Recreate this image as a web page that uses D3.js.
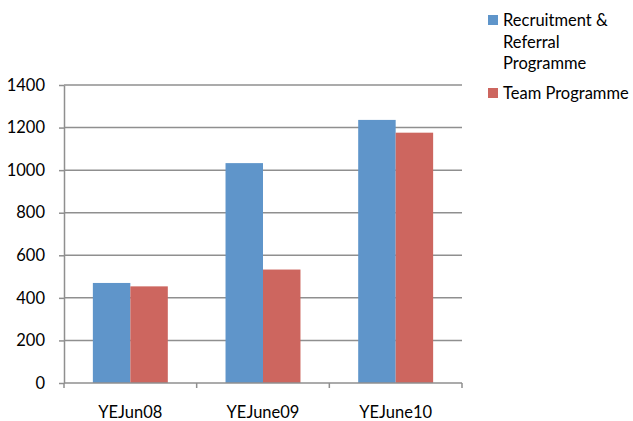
<!DOCTYPE html>
<html>
<head>
<meta charset="utf-8">
<script src="https://cdn.jsdelivr.net/npm/d3@7"></script>
<style>
  html, body { margin: 0; padding: 0; background: #fff; }
  svg { display: block; font-family: Lato, "Open Sans", sans-serif; }
</style>
</head>
<body>
<svg id="chart" width="633" height="421"></svg>
<script>
// Year-end programme totals
const categories = ["YEJun08", "YEJune09", "YEJune10"];
const seriesNames = [["Recruitment &", "Referral", "Programme"], ["Team Programme"]];
const recruitmentReferral = [470, 1033, 1236];
const teamProgramme = [454, 533, 1176];
const yTicks = [0, 200, 400, 600, 800, 1000, 1200, 1400];
const colors = ["#5f95ca", "#cd665f"];

const series = [recruitmentReferral, teamProgramme];

const svg = d3.select("#chart");
const plot = { left: 64, right: 462, top: 85, bottom: 383 };
const fontSize = 16.5;
const fontFamily = "Lato, \"Open Sans\", sans-serif";

const x = d3.scaleBand().domain(categories).range([plot.left, plot.right]).paddingInner(0).paddingOuter(0);
const inner = d3.scaleBand().domain(d3.range(series.length)).range([0, x.bandwidth()]).paddingInner(0).paddingOuter(0.77);
const y = d3.scaleLinear().domain([0, 1400]).range([plot.bottom, plot.top]);

// Horizontal gridlines
svg.append("g")
  .selectAll("line")
  .data(yTicks.filter(d => d > 0))
  .join("line")
  .attr("x1", plot.left).attr("x2", plot.right)
  .attr("y1", d => y(d)).attr("y2", d => y(d))
  .attr("stroke", "#8f8f8f").attr("stroke-width", 1.5);

// Bars
const groups = svg.append("g")
  .selectAll("g")
  .data(categories)
  .join("g")
  .attr("transform", d => `translate(${x(d)},0)`);

groups.selectAll("rect")
  .data((c, i) => series.map((s, k) => ({ k, v: s[i] })))
  .join("rect")
  .attr("x", d => inner(d.k))
  .attr("width", inner.bandwidth())
  .attr("y", d => y(d.v))
  .attr("height", d => y(0) - y(d.v))
  .attr("fill", d => colors[d.k]);

// Y axis
const yAxis = svg.append("g")
  .attr("transform", `translate(${plot.left},0)`)
  .call(d3.axisLeft(y).tickValues(yTicks).tickFormat(d3.format("d"))
    .tickSize(5).tickPadding(14).tickSizeOuter(0));
yAxis.select(".domain").attr("stroke", "#8f8f8f").attr("stroke-width", 1.5);
yAxis.selectAll(".tick line").attr("stroke", "#8f8f8f").attr("stroke-width", 1.5);
yAxis.selectAll(".tick text").attr("font-size", fontSize).attr("fill", "#000")
  .style("font-family", fontFamily);

// X axis with boundary ticks between categories
const xAxisG = svg.append("g").attr("transform", `translate(0,${plot.bottom})`);
xAxisG.append("line")
  .attr("x1", plot.left).attr("x2", plot.right)
  .attr("stroke", "#8f8f8f").attr("stroke-width", 1.5);
const bounds = categories.map(c => x(c)).concat([x(categories[categories.length - 1]) + x.bandwidth()]);
xAxisG.selectAll("line.b")
  .data(bounds)
  .join("line")
  .attr("class", "b")
  .attr("x1", d => d).attr("x2", d => d)
  .attr("y1", 0).attr("y2", 5)
  .attr("stroke", "#8f8f8f").attr("stroke-width", 1.5);
xAxisG.selectAll("text")
  .data(categories)
  .join("text")
  .attr("x", d => x(d) + x.bandwidth() / 2)
  .attr("y", 35)
  .attr("text-anchor", "middle")
  .attr("font-size", fontSize)
  .attr("fill", "#000")
  .text(d => d);

// Legend
const legendRows = [{ y: 15, k: 0 }, { y: 88, k: 1 }];
const legend = svg.append("g").attr("transform", "translate(488,0)");
legendRows.forEach(r => {
  legend.append("rect")
    .attr("x", 0).attr("y", r.y)
    .attr("width", 10).attr("height", 10)
    .attr("fill", colors[r.k]);
  const t = legend.append("text")
    .attr("x", 15).attr("y", r.y + 11)
    .attr("font-size", fontSize).attr("fill", "#000");
  seriesNames[r.k].forEach((line, i) => {
    t.append("tspan").attr("x", 15).attr("dy", i === 0 ? 0 : 21.5).text(line);
  });
});
</script>
</body>
</html>
